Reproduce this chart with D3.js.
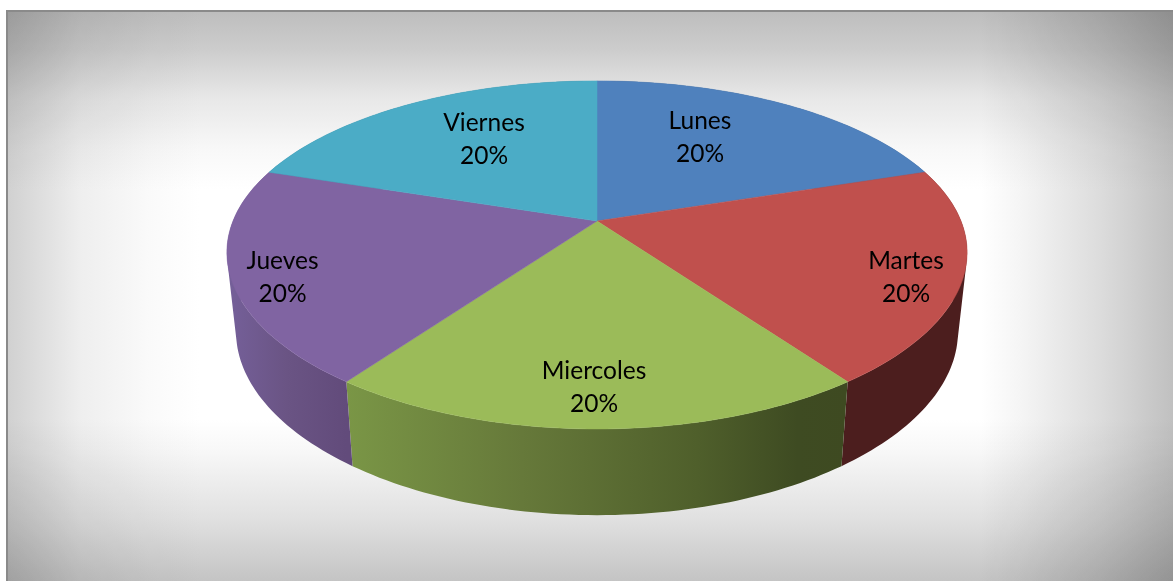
<!DOCTYPE html>
<html lang="en">

<head>
	<meta charset="utf-8">
	<title> Pie 3D </title>
	<script src="https://d3js.org/d3.v7.min.js"></script>
	<style type="text/css">
		html, body { margin: 0; padding: 0; background: #fff; overflow: hidden; }
		svg { display: block; }
		text { font-family: Lato, "Open Sans", sans-serif; font-size: 24.5px; fill: #000; text-anchor: middle; }
	</style>
</head>

<body>
	<svg id="chart" width="1173" height="581"></svg>

	<script type="text/javascript">
	// data
	var categories = ["Lunes", "Martes", "Miercoles", "Jueves", "Viernes"]
	var values = [20, 20, 20, 20, 20]

	// styles
	var topColors = ["#4f81bd", "#c0504d", "#9bbb59", "#8064a2", "#4bacc6"]
	var sideStops = [
		[["#3d5a7d", 0], ["#3d5a7d", 1]],
		[["#4c1e1e", 0], ["#4c1e1e", 1]],
		[["#7a9646", 0], ["#66793a", 0.35], ["#4f5f2b", 0.7], ["#3e4b22", 0.9], ["#3e4a21", 1]],
		[["#75609a", 0], ["#6a5484", 0.5], ["#624b7b", 1]],
		[["#35798c", 0], ["#35798c", 1]]
	]

	// label offsets from the pie centre, px
	var labelDx = [103, 309, -3, -314.5, -113]
	var labelDy = [-84, 56, 166, 56, -82]
	var lineGap = 33

	var svg = d3.select("#chart")
	var defs = svg.append("defs")

	// panel: rectangular path gradient faked with two multiplied linear ones
	var panel = {x: 6, y: 10, w: 1167, h: 571}

	function addGradient(id, x1, y1, x2, y2, stops) {
		var g = defs.append("linearGradient").attr("id", id)
			.attr("gradientUnits", "userSpaceOnUse")
			.attr("x1", x1).attr("y1", y1).attr("x2", x2).attr("y2", y2)
		stops.forEach(function(s) {
			g.append("stop").attr("offset", s[1]).attr("stop-color", s[0])
		})
	}

	addGradient("bgH", panel.x, 0, panel.x + panel.w, 0, [
		["#d0d0d0", 0], ["#e2e2e2", 0.038], ["#eeeeee", 0.063], ["#fafafa", 0.123], ["#ffffff", 0.166],
		["#ffffff", 0.835], ["#f5f5f5", 0.869], ["#dcdcdc", 0.938], ["#c0c0c0", 1]])
	addGradient("bgV", 0, panel.y, 0, panel.y + panel.h, [
		["#bdbdbd", 0], ["#cccccc", 0.068], ["#e8e8e8", 0.156], ["#f8f8f8", 0.244], ["#ffffff", 0.314],
		["#ffffff", 0.718], ["#f8f8f8", 0.77], ["#e0e0e0", 0.893], ["#c4c4c4", 1]])

	svg.append("rect").attr("x", panel.x).attr("y", panel.y).attr("width", panel.w).attr("height", panel.h)
		.attr("fill", "url(#bgH)")
	svg.append("rect").attr("x", panel.x).attr("y", panel.y).attr("width", panel.w).attr("height", panel.h)
		.attr("fill", "url(#bgV)").style("mix-blend-mode", "multiply")
	svg.append("path")
		.attr("d", "M" + (panel.x + 1) + "," + (panel.y + panel.h) + "V" + (panel.y + 1) + "H" + (panel.x + panel.w))
		.attr("fill", "none").attr("stroke", "#8a8a8a").attr("stroke-width", 2)

	// perspective projection of a unit disc, one for the top plane and one for the bottom
	var cx = 597
	var kx = 0.181, ky = 0.195
	var topPlane = {a: 364, b: 167.4, y0: 221}
	var botPlane = {a: 355, b: 174, y0: 299}

	function project(plane, angle, r) {
		var u = r * Math.sin(angle), v = -r * Math.cos(angle)
		return [cx + plane.a * u / (1 - kx * v), plane.y0 + plane.b * v / (1 - ky * v)]
	}

	var pie = d3.pie().sort(null).value(function(d) { return d })
	var arcs = pie(values)

	function steps(a0, a1) {
		return d3.range(0, 61).map(function(i) { return a0 + (a1 - a0) * i / 60 })
	}

	// walls: thin quads from top rim to bottom rim, so the silhouette comes out right
	function wallPath(d) {
		var path = d3.path()
		var s = steps(d.startAngle, d.endAngle)
		for (var i = 0; i < s.length - 1; i++) {
			var q = [project(topPlane, s[i], 1), project(topPlane, s[i + 1], 1),
				project(botPlane, s[i + 1], 1), project(botPlane, s[i], 1)]
			// same winding for all, opposite ones cancel out where they overlap
			if (d3.polygonArea(q) < 0) q.reverse()
			path.moveTo(q[0][0], q[0][1])
			path.lineTo(q[1][0], q[1][1])
			path.lineTo(q[2][0], q[2][1])
			path.lineTo(q[3][0], q[3][1])
			path.closePath()
		}
		return path.toString()
	}

	arcs.forEach(function(d, i) {
		var xs = steps(d.startAngle, d.endAngle).map(function(a) { return project(topPlane, a, 1)[0] })
		addGradient("side" + i, d3.min(xs), 0, d3.max(xs), 0, sideStops[i])
	})

	svg.append("g").selectAll("path").data(arcs).enter().append("path")
		.attr("d", wallPath)
		.attr("fill", function(d, i) { return "url(#side" + i + ")" })

	// top face
	var line = d3.line()
	svg.append("g").selectAll("path").data(arcs).enter().append("path")
		.attr("d", function(d) {
			var pts = steps(d.startAngle, d.endAngle).map(function(a) { return project(topPlane, a, 1) })
			pts.unshift(project(topPlane, 0, 0))
			return line(pts) + "Z"
		})
		.attr("fill", function(d, i) { return topColors[i] })
		.attr("stroke", function(d, i) { return topColors[i] })
		.attr("stroke-width", 0.5)

	// labels
	var labels = svg.append("g").selectAll("g").data(categories).enter().append("g")
	labels.append("text")
		.attr("x", function(d, i) { return cx + labelDx[i] })
		.attr("y", function(d, i) { return topPlane.y0 + labelDy[i] - lineGap / 2 + 8 })
		.text(function(d) { return d })
	labels.append("text")
		.attr("x", function(d, i) { return cx + labelDx[i] })
		.attr("y", function(d, i) { return topPlane.y0 + labelDy[i] + lineGap / 2 + 8 })
		.text(function(d, i) { return values[i] + "%" })
	</script>
</body>
</html>
